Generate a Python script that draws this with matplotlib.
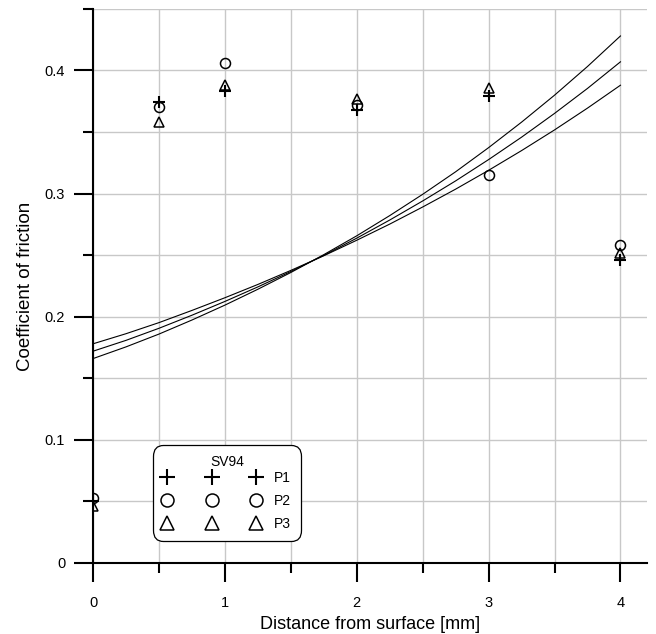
import matplotlib.pyplot as plt
from matplotlib.ticker import MultipleLocator

plt.rcParams['font.family'] = ['Liberation Sans', 'DejaVu Sans']

# measured points (SV94)
depth = [0, 0.5, 1, 2, 3, 4]
p1 = [0.050, 0.374, 0.383, 0.368, 0.379, 0.246]
p2 = [0.053, 0.370, 0.406, 0.372, 0.315, 0.258]
p3 = [0.046, 0.358, 0.388, 0.377, 0.386, 0.252]

# fitted curves
fit_x = [0, 0.25, 0.5, 0.75, 1, 1.25, 1.5, 1.75, 2, 2.25, 2.5, 2.75, 3, 3.25, 3.5, 3.75, 4]
fit_a = [0.166, 0.1755, 0.1859, 0.1973, 0.2094, 0.2223, 0.2359, 0.2504, 0.2657,
         0.2821, 0.2994, 0.3177, 0.3373, 0.3580, 0.3799, 0.4032, 0.428]
fit_b = [0.172, 0.1808, 0.1906, 0.2012, 0.2124, 0.2242, 0.2367, 0.2498, 0.2638,
         0.2785, 0.2940, 0.3103, 0.3276, 0.3458, 0.3651, 0.3854, 0.407]
fit_c = [0.178, 0.1862, 0.1952, 0.2051, 0.2154, 0.2262, 0.2376, 0.2495, 0.2621,
         0.2752, 0.2891, 0.3036, 0.3189, 0.3349, 0.3517, 0.3694, 0.388]

fig = plt.figure(figsize=(6.56, 6.34), dpi=100)
ax = fig.add_axes([0.1418, 0.112, 0.8442, 0.874])

for fy in (fit_a, fit_b, fit_c):
    ax.plot(fit_x, fy, color='black', lw=0.8)

mk = dict(ls='none', color='black', mfc='none', ms=7.2, mew=1.1)
ax.plot(depth, p1, marker='+', label='P1', **{**mk, 'mew': 1.5, 'ms': 9})
ax.plot(depth, p2, marker='o', label='P2', **mk)
ax.plot(depth, p3, marker='^', label='P3', **mk)

ax.set_xlim(0, 4.2)
ax.set_ylim(0, 0.45)
ax.xaxis.set_major_locator(MultipleLocator(1))
ax.xaxis.set_minor_locator(MultipleLocator(0.5))
ax.yaxis.set_major_locator(MultipleLocator(0.1))
ax.yaxis.set_minor_locator(MultipleLocator(0.05))
ax.yaxis.set_major_formatter(plt.FuncFormatter(lambda v, p: '0' if v == 0 else f'{v:.1f}'))

ax.grid(True, which='both', color='#c8c8c8', lw=1)
ax.set_axisbelow(True)
for s in ('top', 'right'):
    ax.spines[s].set_visible(False)
for s in ('left', 'bottom'):
    ax.spines[s].set_linewidth(1.5)

ax.tick_params(which='major', direction='out', length=14, width=1.5, labelsize=10.5)
ax.tick_params(which='minor', direction='out', length=7, width=1.5)
ax.tick_params(axis='x', which='major', pad=10)
ax.tick_params(axis='y', which='major', pad=6)

ax.set_xlabel('Distance from surface [mm]', fontsize=13, labelpad=4)
ax.set_ylabel('Coefficient of friction', fontsize=13.5, labelpad=8)

leg = ax.legend(loc='lower left', bbox_to_anchor=(0.108, 0.04), borderaxespad=0,
                numpoints=3, handlelength=7.05, handletextpad=1.0, markerscale=1.3,
                title='SV94', fontsize=10, title_fontsize=10,
                framealpha=1, edgecolor='black', labelspacing=0.65, borderpad=0.7)
leg._legend_box.sep = 1.5  # tighter gap under the title
leg.get_frame().set_linewidth(0.9)
leg.get_frame().set_boxstyle('round', pad=0, rounding_size=0.75)

fig.savefig('out.png', dpi=100)
